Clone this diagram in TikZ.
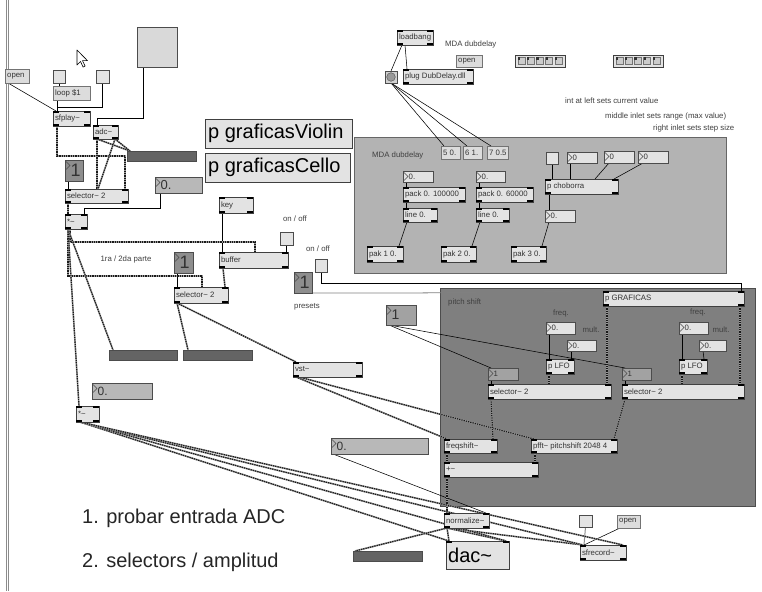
\documentclass[tikz,border=0pt]{standalone}
\usepackage{fontspec}
\setmainfont{Liberation Sans}
\usetikzlibrary{calc}
\pgfdeclarelayer{bg}
\pgfdeclarelayer{cords}
\pgfsetlayers{bg,cords,main}

\definecolor{boxfill}{HTML}{E3E3E3}
\definecolor{msgfill}{HTML}{DCDCDC}
\definecolor{darknum}{HTML}{8E8E8E}
\definecolor{midnum}{HTML}{A2A2A2}
\definecolor{lightnum}{HTML}{B8B8B8}
\definecolor{meterfill}{HTML}{646464}
\definecolor{panelA}{HTML}{B3B3B3}
\definecolor{panelB}{HTML}{7F7F7F}

\tikzset{
  objbox/.style={draw=black!75, fill=boxfill, line width=0.8pt, inner sep=0pt, outer sep=0pt},
  msgbox/.style={draw=black!55, fill=msgfill, line width=0.8pt, inner sep=0pt, outer sep=0pt},
  numbox/.style={draw=black!70, line width=0.8pt, inner sep=0pt, outer sep=0pt},
  tglbox/.style={draw=black!70, fill=boxfill, line width=0.8pt, inner sep=0pt, outer sep=0pt},
  meterbox/.style={draw=black!70, fill=meterfill, line width=0.8pt, inner sep=0pt, outer sep=0pt},
  panelbox/.style={draw=black!60, line width=1pt, inner sep=0pt, outer sep=0pt},
  txt/.style={font=\fontsize{7.8}{8}\selectfont, text=black!80, inner sep=0pt},
  lbl/.style={font=\fontsize{7.8}{8}\selectfont, text=black!75, inner sep=0pt},
  note/.style={font=\fontsize{20}{22}\selectfont, text=black!85, anchor=west, inner sep=0pt},
  ctl/.style={draw=black, line width=0.55pt},
  sig/.style={draw=black!90, line width=1.2pt, dash pattern=on 1.3pt off 1pt,
              preaction={draw=black!40, line width=1.6pt, solid}},
}

% object box: name, x, y, width, height, text
\newcommand\maxobj[6]{%
  \node[objbox,minimum width=#4pt,minimum height=#5pt,anchor=north west] (#1) at (#2,#3) {};
  \fill[black] (#1.north west) rectangle ++(6,1.8);
  \fill[black] (#1.north east) rectangle ++(-6,1.8);
  \fill[black] (#1.south west) rectangle ++(6,-1.8);
  \fill[black] (#1.south east) rectangle ++(-6,-1.8);
  \node[txt,anchor=west] (#1-t) at ([xshift=1.8pt]#1.west) {#6};}

% message box: name, x, y, width, height, text
\newcommand\maxmsg[6]{%
  \node[msgbox,minimum width=#4pt,minimum height=#5pt,anchor=north west] (#1) at (#2,#3) {};
  \node[txt,anchor=west] (#1-t) at ([xshift=2pt]#1.west) {#6};}

% number box: name, x, y, width, height, fill, font size, text
\newcommand\maxnum[8]{%
  \node[numbox,fill=#6,minimum width=#4pt,minimum height=#5pt,anchor=north west] (#1) at (#2,#3) {};
  \draw[black!70,line width=0.5pt] ([xshift=1pt,yshift=-1.5pt]#1.north west) -- ++(4,4) -- ++(-4,4);
  \node[txt,font=\fontsize{#7}{#7}\selectfont,anchor=west] (#1-t) at ([xshift=5.5pt]#1.west) {#8};}

% toggle: name, x, y, width, height
\newcommand\maxtgl[5]{%
  \node[tglbox,minimum width=#4pt,minimum height=#5pt,anchor=north west] (#1) at (#2,#3) {};}

% level meter: name, x, y, width, height
\newcommand\maxmeter[5]{%
  \node[meterbox,minimum width=#4pt,minimum height=#5pt,anchor=north west] (#1) at (#2,#3) {};}

% multislider strip: name, x, y
\newcommand\maxstrip[3]{%
  \node[objbox,minimum width=50pt,minimum height=12pt,anchor=north west] (#1) at (#2,#3) {};
  \foreach \i in {0,...,4}{%
    \draw[fill=black!20,draw=black!55,line width=0.4pt] ([xshift=3pt+\i*9.2pt,yshift=-2.5pt]#1.north west) rectangle ++(7,7);
    \fill[black!80] ([xshift=3pt+\i*9.2pt,yshift=-2.5pt]#1.north west) rectangle ++(2.2,2.2);}}

\begin{document}
\begin{tikzpicture}[x=1pt,y=-1pt]
\useasboundingbox (0,0) rectangle (762,591);

\begin{pgfonlayer}{bg}
  \fill[white] (0,0) rectangle (762,591);
  % window edge
  \draw[black!45, line width=0.8pt] (6,0) -- (6,591);
  \draw[black!45, line width=0.8pt] (8.3,0) -- (8.3,591);
  % sub-patch panels
  \node[panelbox,fill=panelA,minimum width=372pt,minimum height=136pt,anchor=north west] (mdapanel) at (354,137) {};
  \node[panelbox,fill=panelB,draw=black!70,minimum width=315pt,minimum height=218pt,anchor=north west] (pspanel) at (440,288) {};
\end{pgfonlayer}

% mouse pointer
\draw[fill=white, line width=0.6pt, line join=round] (77,50) -- ++(0,15) -- ++(3.5,-3.5) -- ++(2.6,5.6) -- ++(2,-1) -- ++(-2.6,-5.4) -- ++(5,0) -- cycle;

% ---- player / input section
\maxmsg{openL}{5}{69}{24}{14}{open}
\maxtgl{tgA}{53}{70}{12}{13}
\maxtgl{tgB}{96}{70}{13}{13}
\maxmsg{loop}{53}{86}{37}{14}{loop \$1}
\node[tglbox,fill=black!15,minimum width=40pt,minimum height=40pt,anchor=north west] (bigBtn) at (137,27) {};
\maxobj{sfplay}{53}{111}{37}{15}{sfplay\textasciitilde}
\maxobj{adc}{93}{125}{25}{14}{adc\textasciitilde}
\maxmeter{meterA}{127}{151}{69}{10}
\maxnum{nbA}{65}{160}{18}{21}{darknum}{18}{1}
\maxobj{selA}{65}{189}{63}{14}{selector\textasciitilde\ 2}
\maxnum{flA}{155}{177}{47}{16}{lightnum}{13}{0.}
\maxobj{mulA}{65}{214}{22}{15}{*\textasciitilde}

% ---- graphics sub-patches
\node[objbox,minimum width=147pt,minimum height=29pt,anchor=north west] (gViolin) at (205,119) {};
\node[txt,font=\fontsize{20}{22}\selectfont,text=black,anchor=west] (gViolin-t) at ([xshift=3pt]gViolin.west) {p graficasViolin};
\node[objbox,minimum width=145pt,minimum height=29pt,anchor=north west] (gCello) at (205,153) {};
\node[txt,font=\fontsize{20}{22}\selectfont,text=black,anchor=west] (gCello-t) at ([xshift=3pt]gCello.west) {p graficasCello};

% ---- buffer / second selector
\maxobj{key}{219}{197}{34}{16}{key}
\maxobj{buffer}{219}{252}{69}{16}{buffer}
\maxtgl{tgC}{280}{232}{13}{13}
\node[lbl] (lonoff1) at (295,219) {on / off};
\maxnum{nbB}{174}{252}{19}{21}{darknum}{18}{1}
\maxobj{selB}{174}{287}{54}{16}{selector\textasciitilde\ 2}
\maxtgl{tgD}{315}{259}{12}{13}
\node[lbl] (lonoff2) at (318,249) {on / off};
\maxnum{nbP}{294}{272}{18}{21}{darknum}{18}{1}
\node[lbl] (lpresets) at (307,307) {presets};
\node[lbl] (lparte) at (126,259) {1ra / 2da parte};
\maxmeter{meterB}{109}{350}{68}{10}
\maxmeter{meterC}{183}{350}{69}{10}
\maxobj{vst}{293}{362}{69}{15}{vst\textasciitilde}
\maxnum{flB}{92}{383}{60}{16}{lightnum}{12}{0.}
\maxobj{mulB}{76}{406}{23}{16}{*\textasciitilde}

% ---- delay plug-in loader
\maxobj{loadbang}{397}{30}{36}{15}{loadbang}
\node[tglbox,fill=black!18,minimum width=12pt,minimum height=12pt,anchor=north west] (bang) at (385,71) {};
\draw[fill=black!40,draw=black!65,line width=0.5pt] (bang.center) circle (4.3pt);
\maxobj{plug}{403}{69}{70}{15}{plug DubDelay.dll}
\node[lbl,anchor=west] (lmda1) at (445,44) {MDA dubdelay};
\maxmsg{openM}{456}{55}{26}{12}{open}
\maxstrip{ms1}{515}{55}
\maxstrip{ms2}{613}{55}
\node[lbl,anchor=west] (lhelp1) at (565,101) {int at left sets current value};
\node[lbl,anchor=west] (lhelp2) at (605,116) {middle inlet sets range (max value)};
\node[lbl,anchor=west] (lhelp3) at (653,128) {right inlet sets step size};

% ---- delay parameter panel
\node[lbl,anchor=west] (lmda2) at (372,155) {MDA dubdelay};
\maxmsg{m50}{441}{146}{19}{13}{5 0.}
\maxmsg{m61}{463}{146}{19}{13}{6 1.}
\maxmsg{m705}{487}{146}{21}{13}{7 0.5}
\maxnum{fM1}{403}{171}{30}{11}{boxfill}{7.8}{0.}
\maxobj{pack1}{403}{187}{62}{15}{pack 0. 100000}
\maxobj{line1}{403}{208}{34}{14}{line 0.}
\maxobj{pak1}{367}{246}{36}{16}{pak 1 0.}
\maxnum{fM2}{476}{171}{29}{11}{boxfill}{7.8}{0.}
\maxobj{pack2}{476}{187}{57}{15}{pack 0. 60000}
\maxobj{line2}{476}{208}{33}{14}{line 0.}
\maxobj{pak2}{441}{246}{35}{16}{pak 2 0.}
\maxtgl{tgM}{546}{152}{12}{12}
\maxnum{iM1}{567}{152}{30}{11}{boxfill}{7.8}{0}
\maxnum{iM2}{604}{151}{30}{12}{boxfill}{7.8}{0}
\maxnum{iM3}{638}{151}{30}{12}{boxfill}{7.8}{0}
\maxobj{chob}{545}{179}{73}{15}{p choborra}
\maxnum{fM3}{545}{210}{30}{12}{boxfill}{7.8}{0.}
\maxobj{pak3}{511}{246}{35}{16}{pak 3 0.}

% ---- pitch shift panel
\maxnum{nbC}{386}{305}{30}{20}{midnum}{14}{1}
\node[lbl,anchor=west] (lpitch) at (448,302) {pitch shift};
\maxobj{pgraf}{603}{291}{141}{15}{p GRAFICAS}
\node[lbl] (lfreq1) at (561,313) {freq.};
\node[lbl] (lfreq2) at (698,312) {freq.};
\node[lbl] (lmult1) at (591,330) {mult.};
\node[lbl] (lmult2) at (721,330) {mult.};
\maxnum{fP1}{546}{322}{29}{12}{boxfill}{7.8}{0.}
\maxnum{fP2}{567}{340}{29}{11}{boxfill}{7.8}{0.}
\maxobj{lfo1}{546}{359}{28}{15}{p LFO}
\maxnum{nbS1}{488}{368}{30}{12}{midnum}{7.8}{1}
\maxobj{sel1}{488}{384}{123}{15}{selector\textasciitilde\ 2}
\maxnum{fP3}{679}{322}{29}{12}{boxfill}{7.8}{0.}
\maxnum{fP4}{699}{340}{27}{11}{boxfill}{7.8}{0.}
\maxobj{lfo2}{679}{359}{28}{15}{p LFO}
\maxnum{nbS2}{622}{368}{29}{12}{midnum}{7.8}{1}
\maxobj{sel2}{622}{384}{122}{15}{selector\textasciitilde\ 2}
\maxobj{fshift}{444}{439}{53}{14}{freqshift\textasciitilde}
\maxobj{pfft}{531}{439}{86}{14}{pfft\textasciitilde\ pitchshift 2048 4}
\maxobj{plus}{444}{462}{94}{15}{+\textasciitilde}

% ---- output section
\maxnum{flC}{331}{438}{97}{16}{lightnum}{12}{0.}
\maxobj{norm}{444}{513}{45}{15}{normalize\textasciitilde}
\node[objbox,minimum width=63pt,minimum height=28pt,anchor=north west] (dac) at (446,541) {};
\fill[black] (dac.north west) rectangle ++(6,1.8);
\fill[black] (dac.north east) rectangle ++(-6,1.8);
\node[txt,font=\fontsize{20}{22}\selectfont,text=black,anchor=west] (dac-t) at ([xshift=2pt]dac.west) {dac\textasciitilde};
\maxmeter{meterD}{353}{551}{69}{10}
\maxtgl{tgE}{579}{515}{13}{12}
\maxmsg{openR}{617}{515}{23}{13}{open}
\maxobj{sfrec}{580}{545}{46}{15}{sfrecord\textasciitilde}
\node[note] (note1) at (82,518) {1. probar entrada ADC};
\node[note] (note2) at (82,562) {2. selectors / amplitud};

\begin{pgfonlayer}{cords}
% control connections
\draw[ctl] ([xshift=3pt]openL.south west) -- ([xshift=3pt]sfplay.north west);
\draw[ctl] (tgA.south) -- (loop.north -| tgA.south);
\draw[ctl] ([xshift=4pt]loop.south west) -- ([xshift=4pt]sfplay.north west);
\draw[ctl] (tgB.south) -- ++(0,24) -| ([xshift=4pt]sfplay.north west);
\draw[ctl] ([xshift=6pt]bigBtn.south west) -- ++(0,51) -| ([xshift=4pt]adc.north west);
\draw[ctl] ([xshift=3pt]nbA.south west) -- ([xshift=3pt]selA.north west);
\draw[ctl] ([xshift=5pt]flA.south west) -- ++(0,15) -| ([xshift=-3pt]mulA.north east);
\draw[ctl] ([xshift=3pt]key.south west) -- ([xshift=3pt]buffer.north west);
\draw[ctl] (tgC.south) -- (buffer.north -| tgC.south);
\draw[ctl] ([xshift=3pt]nbB.south west) -- ([xshift=3pt]selB.north west);
\draw[ctl] (tgD.south) -- ++(0,11) -| ([xshift=-3pt]pgraf.north east);
\draw[ctl,draw=black!50,line width=0.8pt] ([xshift=4pt]nbP.south west) -- ++(115,0) -- ([xshift=3pt]pgraf.north west);
\draw[ctl] ([xshift=5pt]loadbang.south west) -- (bang.north);
\draw[ctl] ([xshift=8pt]loadbang.south west) -- ([xshift=4pt]plug.north west);
\draw[ctl] (bang.south) -- ([xshift=3pt]m50.north west);
\draw[ctl] (bang.south) -- ([xshift=4pt]m61.north west);
\draw[ctl] (bang.south) -- ([xshift=4pt]m705.north west);
\draw[ctl] ([xshift=3pt]fM1.south west) -- ([xshift=3pt]pack1.north west);
\draw[ctl] ([xshift=3pt]pack1.south west) -- ([xshift=3pt]line1.north west);
\draw[ctl] ([xshift=4pt]line1.south west) -- ([xshift=-4pt]pak1.north east);
\draw[ctl] ([xshift=3pt]fM2.south west) -- ([xshift=3pt]pack2.north west);
\draw[ctl] ([xshift=3pt]pack2.south west) -- ([xshift=3pt]line2.north west);
\draw[ctl] ([xshift=4pt]line2.south west) -- ([xshift=-4pt]pak2.north east);
\draw[ctl] (tgM.south) -- (chob.north -| tgM.south);
\draw[ctl] ([xshift=3pt]iM1.south west) -- ([xshift=25pt]chob.north west);
\draw[ctl] ([xshift=5pt]iM2.south west) -- ([xshift=50pt]chob.north west);
\draw[ctl] ([xshift=5pt]iM3.south west) -- ([xshift=-4pt]chob.north east);
\draw[ctl] ([xshift=4pt]chob.south west) -- ([xshift=4pt]fM3.north west);
\draw[ctl] ([xshift=4pt]fM3.south west) -- ([xshift=-4pt]pak3.north east);
\draw[ctl] ([xshift=3pt]nbC.south west) -- ([xshift=3pt]nbS1.north west);
\draw[ctl] ([xshift=3pt]nbC.south west) -- ([xshift=3pt]nbS2.north west);
\draw[ctl] ([xshift=3pt]fP1.south west) -- ([xshift=3pt]lfo1.north west);
\draw[ctl] ([xshift=4pt]fP2.south west) -- ([xshift=-3pt]lfo1.north east);
\draw[ctl] ([xshift=3pt]fP3.south west) -- ([xshift=3pt]lfo2.north west);
\draw[ctl] ([xshift=4pt]fP4.south west) -- ([xshift=-3pt]lfo2.north east);
\draw[ctl] ([xshift=3pt]nbS1.south west) -- ([xshift=3pt]sel1.north west);
\draw[ctl] ([xshift=3pt]nbS2.south west) -- ([xshift=3pt]sel2.north west);
\draw[ctl] ([xshift=2pt]flC.south west) -- ([xshift=-3pt]norm.north east);
\draw[ctl,draw=black!45,line width=1pt] (tgE.south) -- ([xshift=4pt]sfrec.north west);
\draw[ctl] ([xshift=3pt]openR.south west) -- ([xshift=4pt]sfrec.north west);

% signal connections
\draw[sig] ([xshift=4pt]sfplay.south west) -- ++(0,30) -| ([xshift=-3pt]selA.north east);
\draw[sig] ([xshift=4pt]adc.south west) -- ([xshift=32pt]selA.north west);
\draw[sig] ([xshift=-3pt]adc.south east) -- ([xshift=33pt]selA.north west);
\draw[sig] ([xshift=4pt]adc.south west) -- ([xshift=3pt]meterA.north west);
\draw[sig] ([xshift=-3pt]adc.south east) -- ([xshift=3pt]meterA.north west);
\draw[sig] ([xshift=3pt]selA.south west) -- ([xshift=3pt]mulA.north west);
\draw[sig] ([xshift=5pt]mulA.south west) -- ++(0,13) -| ([xshift=36pt]buffer.north west);
\draw[sig] ([xshift=3pt]mulA.south west) -- ++(0,47) -| ([xshift=28pt]selB.north west);
\draw[sig] ([xshift=4pt]buffer.south west) -- ([xshift=-3pt]selB.north east);
\draw[sig] ([xshift=3pt]mulA.south west) -- ([xshift=4pt]meterB.north west);
\draw[sig] ([xshift=3pt]mulA.south west) -- ([xshift=3pt]mulB.north west);
\draw[sig] ([xshift=3pt]selB.south west) -- ([xshift=5pt]meterC.north west);
\draw[sig] ([xshift=3pt]selB.south west) -- ([xshift=3pt]vst.north west);
\draw[sig] ([xshift=3pt]vst.south west) -- ([xshift=3pt]fshift.north west);
\draw[sig] ([xshift=6pt]vst.south west) -- ([xshift=3pt]pfft.north west);
\draw[sig] ([xshift=3pt]lfo1.south west) -- ([xshift=61pt]sel1.north west);
\draw[sig] ([xshift=3pt]lfo2.south west) -- ([xshift=60pt]sel2.north west);
\draw[sig] ([xshift=4pt]pgraf.south west) -- ([xshift=-4pt]sel1.north east);
\draw[sig] ([xshift=-4pt]pgraf.south east) -- ([xshift=-4pt]sel2.north east);
\draw[sig] ([xshift=3pt]sel1.south west) -- ([xshift=-4pt]fshift.north east);
\draw[sig] ([xshift=3pt]sel2.south west) -- ([xshift=-3pt]pfft.north east);
\draw[sig] ([xshift=3pt]fshift.south west) -- ([xshift=3pt]plus.north west);
\draw[sig] ([xshift=4pt]pfft.south west) -- ([xshift=-3pt]plus.north east);
\draw[sig] ([xshift=3pt]plus.south west) -- ([xshift=3pt]norm.north west);
\draw[sig] ([xshift=3pt]norm.south west) -- ([xshift=3pt]dac.north west);
\draw[sig] ([xshift=3pt]norm.south west) -- ([xshift=-3pt]dac.north east);
\draw[sig] ([xshift=3pt]norm.south west) -- ([xshift=2pt]meterD.north west);
\draw[sig] ([xshift=3pt]norm.south west) -- ([xshift=3pt]sfrec.north west);
\draw[sig] ([xshift=4pt]mulB.south west) -- ([xshift=3pt]dac.north west);
\draw[sig] ([xshift=4pt]mulB.south west) -- ([xshift=-3pt]dac.north east);
\draw[sig] ([xshift=4pt]mulB.south west) -- ([xshift=3pt]sfrec.north west);
\draw[sig] ([xshift=4pt]mulB.south west) -- ([xshift=-3pt]sfrec.north east);
\end{pgfonlayer}
\end{tikzpicture}
\end{document}
